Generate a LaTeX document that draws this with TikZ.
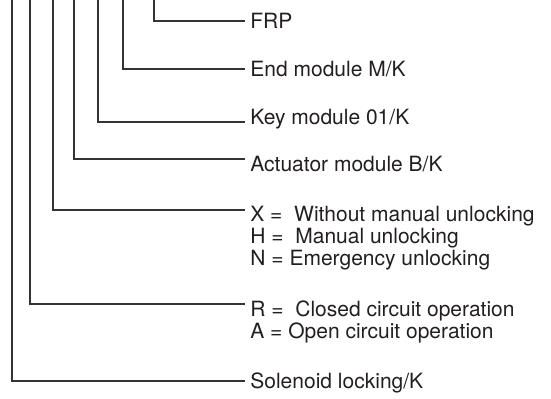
\documentclass[tikz,border=0pt]{standalone}
\usepackage{fontspec}
\setmainfont{TeX Gyre Heros}
\usepackage{xcolor}
\usetikzlibrary{positioning}
\definecolor{ink}{HTML}{231F20}

\begin{document}
\begin{tikzpicture}[x=0.5pt, y=-0.5pt,
      every node/.style={font=\fontsize{10.5}{12}\selectfont, text=ink},
      lbl/.style={anchor=west, inner xsep=2.5pt, inner ysep=1.5pt,
                  text height=7.5pt, text depth=0pt},
      lead/.style={draw=black!80, line width=0.65pt}
  ]

    \useasboundingbox (0,0) rectangle (551,399);

    % ---- Labels ----
    \node[lbl] (frp) at (245,21) {FRP};
    \node[lbl] (endmod) at (245,69) {End module M/K};
    \node[lbl] (keymod) at (245,117) {Key module 01/K};
    \node[lbl] (actmod) at (245,164) {Actuator module B/K};
    \node[lbl] (xopt) at (245,214) {X = \ Without manual unlocking};
    \node[lbl, below=0pt of xopt.south west, anchor=north west] (hopt) {H = \ Manual unlocking};
    \node[lbl, below=0pt of hopt.south west, anchor=north west] (nopt) {N = Emergency unlocking};
    \node[lbl] (ropt) at (245,309) {R = \ Closed circuit operation};
    \node[lbl, below=0pt of ropt.south west, anchor=north west] (aopt) {A = Open circuit operation};
    \node[lbl] (solen) at (245,381) {Solenoid locking/K};

    % ---- Top ends of the leaders ----
    \coordinate (tfrp) at (154,0);
    \coordinate (tend) at (123,0);
    \coordinate (tkey) at (98,0);
    \coordinate (tact) at (74,0);
    \coordinate (tx) at (53,0);
    \coordinate (tr) at (30,0);
    \coordinate (tsol) at (12,0);

    % ---- Leaders ----
    \draw[lead] (tfrp) |- (frp.west);
    \draw[lead] (tend) |- (endmod.west);
    \draw[lead] (tkey) |- ([yshift=-2.5pt]keymod.west);
    \draw[lead] (tact) |- ([yshift=2.5pt]actmod.west);
    \draw[lead] (tx) |- ([yshift=2pt]xopt.west);
    \draw[lead] (tr) |- ([yshift=2.5pt]ropt.west);
    \draw[lead] (tsol) |- (solen.west);

  \end{tikzpicture}
\end{document}
